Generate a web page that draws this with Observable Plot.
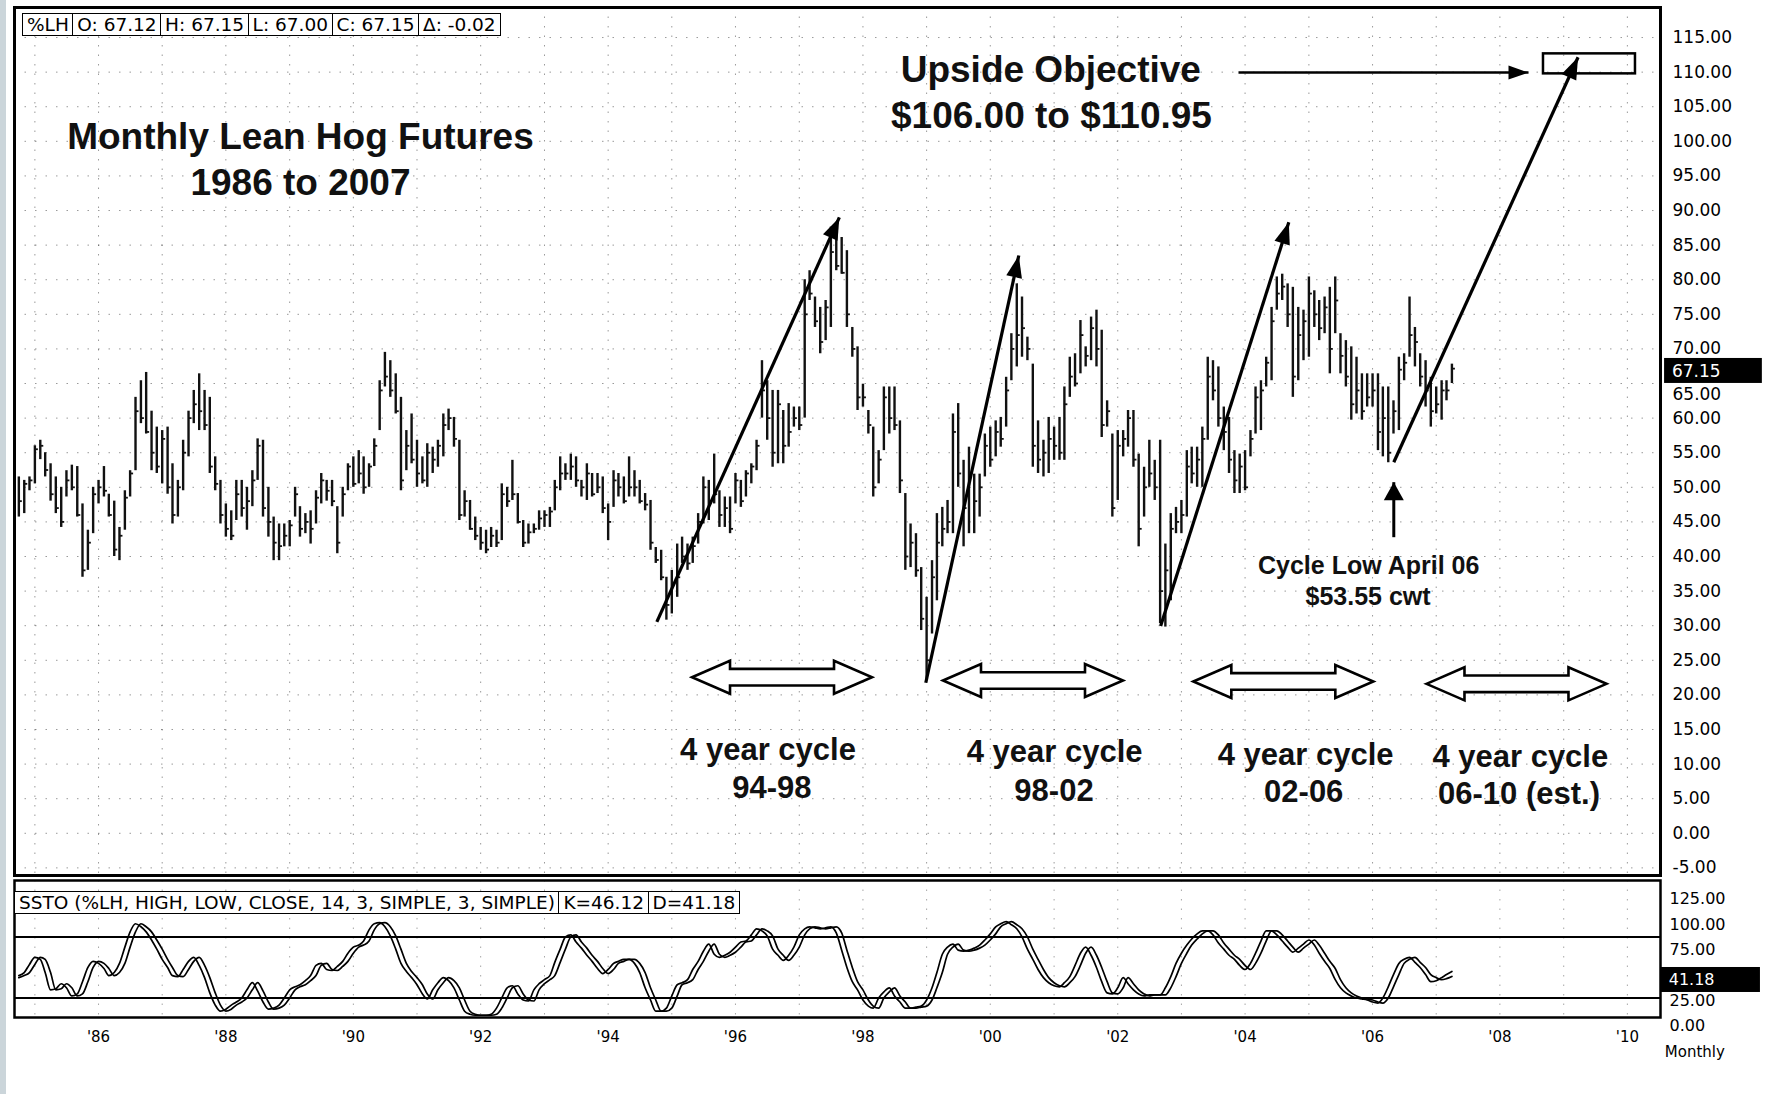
<!DOCTYPE html>
<html><head><meta charset="utf-8">
<script src="https://cdn.jsdelivr.net/npm/d3@7"></script>
<script src="https://cdn.jsdelivr.net/npm/@observablehq/plot@0.6"></script>
<style>
html,body{margin:0;padding:0;background:#fff;}
#chart{position:relative;width:1765px;height:1094px;background:#fff;overflow:hidden;}
#chart svg{position:absolute;left:0;}
.strip{position:absolute;left:0;top:0;width:6px;height:1094px;background:#cbd5da;}
.hdr{position:absolute;display:flex;font-family:"DejaVu Sans",sans-serif;font-size:18.5px;line-height:21px;color:#000;z-index:2;}
.hdr span{border:1.5px solid #000;padding:0 4px;margin-right:-1.5px;background:#fff;white-space:pre;}
</style></head><body><div id="chart"><div class="strip"></div></div>
<script>
// ---------- DATA (monthly bars, first bar = Oct 1984) ----------
const firstYear = 1984, firstMonth = 9;
const high = [51.5,51,51.5,56,56.8,55,53.4,51.5,50,52.4,
53.2,53,47.6,43.8,50,51,53,49,48,44.2,
49.5,52.4,63,65.4,66.6,61,58.7,58.2,58.7,53.4,
51,56.8,61,64,66.4,64,63,54.4,51,47.6,
46.6,51,51,50,52.4,57,56.8,50,45.7,44.7,
44.7,45.2,50,47.2,46.2,46.6,49.5,52,51,51,
47.2,50,53.4,54.4,55.3,54.4,53.4,57,65.4,69.5,
68.3,66.4,63,58.2,60.6,56.8,54.4,56.3,55.8,56.8,
60.6,61.3,60.1,56.8,49.5,48.1,45.7,44.2,43.8,44.2,
43.8,50.5,50,53.9,49.1,45.2,44.7,44.7,46.6,46.6,
47.1,51,54.4,53.4,54.8,54.4,51,53.4,52,52,
51.5,47.6,52.4,52,51.5,54.4,52.4,51,49.1,48.1,
41.3,40.9,37,38,41.8,42.8,41.8,42.8,46.2,51.5,
51,54.8,49.5,48.6,48.6,52,51,52.4,53.4,56.8,
68.3,65.4,64,64,61.1,62.1,61.6,61.6,80,81.3,
77.5,76,77,87.6,87,86.1,84.2,73.1,70.3,64.9,
61.1,58.7,55.3,64.5,64.5,64.5,59.6,49.1,44.7,43.3,
38.4,34.1,39.4,46.2,47.1,48.1,60.6,62.1,53.9,55.8,
51.9,51.9,57.7,58.7,59.6,60.1,65.9,72.2,79.4,77.5,
71.7,67.8,59.6,56.8,60.1,58.7,60.1,64.5,68.8,69.3,
74.1,70.3,74.6,75.6,72.7,62.5,57.7,58.2,58.2,61.1,
61.1,54.8,52.9,56.8,53.9,56.8,41.8,46.2,47.1,48.1,
55.3,55.8,55.8,58.7,68.8,68.3,67.4,61.6,60.1,55.3,
54.8,55.3,58.2,64.5,65.4,68.8,76,80.4,80.8,79.4,
78.9,76,75.6,80.4,78.4,77,77.5,78.9,80.4,72.2,
71.2,70.3,68.8,66.4,66.4,66.4,66.4,64.5,64.5,62.5,
68.8,69.3,77.5,73.1,69.3,68.3,65.9,64.5,65.4,65.4,
67.8];
const low = [45.7,46.2,49.5,50.5,54,51.5,48,46.2,44.2,48.6,
49.5,45.7,37,38,43.3,47.6,48.6,45.7,40,39.4,
43.8,48.6,52.4,59.2,57.7,52.4,52,50.5,49,44.7,
45.7,49.5,54.4,59.2,58.2,58.2,52,49.5,44.7,42.8,
42.3,45.2,45.7,43.8,47.2,51,45.7,42.8,39.4,39.4,
41.4,41.4,45.7,42.8,43.3,41.8,44.7,47.6,48,47.2,
40.4,45.7,49.5,50,50.5,49,50,53,58.2,64.5,
63,60.6,49.5,52.4,53.4,50,50.5,50,52,52.9,
54.4,58.2,55.8,45.2,45.7,43.8,42.3,40.9,40.4,41.3,
41.3,42.3,47.1,48.1,44.7,41.3,41.8,43.3,43.8,44.2,
44.2,46.6,49.5,51,51,50,48.6,48.1,48.6,49.1,
46.2,42.3,47.1,48.6,47.6,48.6,48.6,47.6,46.6,40.9,
39,36.5,30.8,31.7,34.1,39,38,39,41.8,44.7,
45.2,47.6,44.2,44.2,43.3,47.6,47.1,48.6,50.5,52.4,
60,56.8,52.9,53.4,53.4,55.8,58.7,58.2,60,77,
73.1,69.3,71.2,73.1,81.3,80.8,73.1,68.8,61.1,61.6,
57.7,48.6,50.5,55.3,57.7,58.2,49.1,38,38.4,37,
29.3,22.1,28.8,33.6,41.4,43.3,43.3,50,41.4,43.3,
43.3,45.7,51.5,52.9,54.4,55.8,58.7,65.4,67.4,68.8,
68.3,52.9,52,51.5,52,53.9,53.9,53.9,63,64.5,
66.4,67.4,68.3,67.4,57.2,58.7,45.7,48.1,54.4,55.8,
52.9,41.4,45.7,50,48.1,30.3,29.8,33.6,43.3,43.3,
45.7,50.5,50,50,56.8,62.5,58.7,55.3,52,49.1,
49.1,49.5,54.4,57.7,58.2,64.5,65.4,75.6,77,73.1,
63,65.4,68.3,68.8,73.1,71.2,72.2,66.4,72.2,66.4,
64.5,59.7,60.6,59.7,61.6,61.6,55.3,54.4,53.55,57.7,
58.2,65.4,68.8,67.4,64.5,61.6,58.7,60.6,59.7,62.5,
65];
const close = [48,50.5,51,55.5,56,52.5,49,47,45,51,
50,46,38,42,49,50,49.5,46,41,43,
48.5,52,61,60,58,55,53,57,50,46,
50,55,60,62,61,59,53,50.5,46,44,
43,49,47,48,51,56,47,45,42,41.5,
43,44.5,49,44,45,44,48.5,51,49.5,48,
42,49,53,50.5,52,50,53,56,64,66,
64,61,51,56,54,52,51,55,54,56,
59,60,57,46,48,44,43,42,41,43,
42,49,48,49,45,42,43.5,44,45.5,46,
46.5,50,52,52,53,51,50,52,49,50,
47,45,51,50,48,50,50,48,47.5,42,
39.5,37,33,36,37,40,39,41.5,45,50,
48,49,46,47,44,51,48,52,53,56,
64,60,55,62,56,58,60,59,75,78,
74,71,76,84,82,81,75,70,63,63,
59,50,54,63,60,59,51,40,42,38,
31,25,37,42,44,45,58,52,47,52,
48,50,56,54,58,57,64,70,72,73,
70,56,54,55,57,56,55,62,66,65,
72,69,73,70,59,61,47,56,57,60,
54,44,50,52,50,35,38,44,45,46,
53,52,54,57,66,64,60,58,54,51,
53,50,57,63,64,68,74,78,79,75,
66,72,74,78,75,73,76,70,77,69,
66,62,64,61,63,64,58,60,55,61,
67,68,72,71,66,64,61,62,64,64,
67.15];
// Slow stochastic %K and %D (one value per monthly bar)
const stochK = [42,45,53,60,58,45,28,29,34,30,
22,24,36,50,56,54,49,42,45,54,
70,85,93,90,85,77,68,58,50,42,
41,48,56,60,52,40,25,13,7,9,
13,16,20,28,35,27,16,9,10,13,
20,28,31,33,37,42,52,54,48,47,
51,56,64,70,72,76,87,93,94,90,
81,68,54,46,40,33,24,19,28,35,
40,37,30,18,7,4,3,3,3,4,
10,20,30,32,24,18,17,28,34,38,
42,55,68,80,82,75,69,62,56,49,
44,48,54,56,58,58,54,45,30,18,
7,7,10,22,33,35,38,48,56,66,
73,63,60,62,65,70,75,76,82,88,
86,81,68,62,57,62,70,82,88,90,
89,88,89,90,84,67,50,36,28,18,
12,10,20,26,30,22,16,10,10,11,
12,18,30,45,63,70,73,67,66,67,
69,72,77,83,90,93,95,92,88,80,
68,58,48,40,35,32,31,35,41,52,
64,70,62,50,36,25,24,30,40,34,
28,24,22,23,23,23,30,41,54,64,
72,78,83,86,86,82,74,68,62,58,
52,48,54,64,76,86,86,82,76,70,
65,69,73,77,72,64,56,49,38,30,
25,22,20,19,18,16,15,20,31,43,
54,58,60,55,50,43,36,37,40,43,
46.12];
const stochD = [40,42,45,53,60,58,45,28,29,34,
30,22,24,36,50,56,54,49,42,45,
54,70,85,93,90,85,77,68,58,50,
42,41,48,56,60,52,40,25,13,7,
9,13,16,20,28,35,27,16,9,10,
13,20,28,31,33,37,42,52,54,48,
47,51,56,64,70,72,76,87,93,94,
90,81,68,54,46,40,33,24,19,28,
35,40,37,30,18,7,4,3,3,3,
4,10,20,30,32,24,18,17,28,34,
38,42,55,68,80,82,75,69,62,56,
49,44,48,54,56,58,58,54,45,30,
18,7,7,10,22,33,35,38,48,56,
66,73,63,60,62,65,70,75,76,82,
88,86,81,68,62,57,62,70,82,88,
90,89,88,89,90,84,67,50,36,28,
18,12,10,20,26,30,22,16,10,10,
11,12,18,30,45,63,70,73,67,66,
67,69,72,77,83,90,93,95,92,88,
80,68,58,48,40,35,32,31,35,41,
52,64,70,62,50,36,25,24,30,40,
34,28,24,22,23,23,23,30,41,54,
64,72,78,83,86,86,82,74,68,62,
58,52,48,54,64,76,86,86,82,76,
70,65,69,73,77,72,64,56,49,38,
30,25,22,20,19,18,16,15,20,31,
43,54,58,60,55,50,43,40,38,39,
41.18];
const priceTicks = [-5,0,5,10,15,20,25,30,35,40,45,50,55,60,70,75,80,85,90,95,100,105,110,115];
const coveredPriceTick = [65];
const priceGrid = [-5,0,5,10,15,20,25,30,35,40,45,50,55,60,65,70,75,80,85,90,95,100,105,110,115];
const stochTicks = [0,25,75,100,125];
const stochLevels = [20,80];
const yearLabels = [1986,1988,1990,1992,1994,1996,1998,2000,2002,2004,2006,2008,2010];
const gridYears = [1985,1986,1987,1988,1989,1990,1991,1992,1993,1994,1995,1996,1997,1998,1999,2000,2001,2002,2003,2004,2005,2006,2007,2008,2009,2010];
const quoteFields = ["%LH","O: 67.12","H: 67.15","L: 67.00","C: 67.15","\u0394: -0.02"];
const stochFields = ["SSTO (%LH, HIGH, LOW, CLOSE, 14, 3, SIMPLE, 3, SIMPLE)","K=46.12","D=41.18"];
const lastPrice = "67.15", lastD = "41.18";

// ---------- helpers ----------
const yr = v => new Date(Date.UTC(1970,0,1) + (v - 1970) * 365.2425 * 864e5);
const bars = high.map((h, i) => {
  const date = new Date(Date.UTC(firstYear, firstMonth + i, 1));
  return {date, high: h, low: low[i], close: close[i], tickEnd: d3.utcDay.offset(date, 20)};
});
const stoch = stochK.map((k, i) => ({date: bars[i].date, k, d: stochD[i]}));
const yearDates = yearLabels.map(y => new Date(Date.UTC(y,0,1)));
const gridDates = gridYears.map(y => new Date(Date.UTC(y,0,1)));

const xDomain = [yr(1984.681), yr(2010.521)];
const W = 1765, mL = 14, mR = 105;
const yDomain = [-6.10, 119.34];
const upTop = 7, upBottom = 875, upH = 880;

// annotations (positions, in data space)
const titleLines = [
  {x: yr(1989.17), y: 100.55, text: "Monthly Lean Hog Futures"},
  {x: yr(1989.17), y: 93.9, text: "1986 to 2007"}
];
const objectiveLines = [
  {x: yr(2000.95), y: 110.23, text: "Upside Objective"},
  {x: yr(2000.96), y: 103.58, text: "$106.00 to $110.95"}
];
const lowLines = [
  {x: yr(2005.94), y: 38.68, text: "Cycle Low April 06"},
  {x: yr(2005.93), y: 34.12, text: "$53.55 cwt"}
];
const cycleLabels = [
  {x: yr(1996.51), y: 11.96, text: "4 year cycle"}, {x: yr(1996.57), y: 6.47, text: "94-98"},
  {x: yr(2001.01), y: 11.72, text: "4 year cycle"}, {x: yr(2001.0), y: 6.17, text: "98-02"},
  {x: yr(2004.95), y: 11.35, text: "4 year cycle"}, {x: yr(2004.92), y: 5.91, text: "02-06"},
  {x: yr(2008.32), y: 11.02, text: "4 year cycle"}, {x: yr(2008.30), y: 5.6, text: "06-10 (est.)"}
];
const cycleArrows = [
  {x: yr(1996.73), y: 22.56}, {x: yr(2000.67), y: 22.08},
  {x: yr(2004.60), y: 21.94}, {x: yr(2008.26), y: 21.6}
];
const trendArrows = [
  {x1: yr(1994.765), y1: 30.55, x2: yr(1997.63), y2: 89.0},
  {x1: yr(1998.987), y1: 21.76, x2: yr(2000.447), y2: 83.5},
  {x1: yr(2002.674), y1: 29.96, x2: yr(2004.686), y2: 88.31},
  {x1: yr(2006.334), y1: 53.62, x2: yr(2009.227), y2: 112.15}
];
const objectiveArrow = [{x1: yr(2003.896), y1: 109.94, x2: yr(2008.449), y2: 109.94}];
const lowArrow = [{x1: yr(2006.334), y1: 42.79, x2: yr(2006.334), y2: 50.74}];
const objectiveBox = [{x1: yr(2008.684), x2: yr(2010.128), y1: 109.75, y2: 112.64}];
const priceBox = [{x1: yr(2010.585), x2: yr(2012.12), y1: 65.01, y2: 68.62, tx: yr(2010.70), ty: 66.8, text: lastPrice}];

// scales used only to orient the arrowheads
const xs = Plot.scale({x: {type: "utc", domain: xDomain, range: [mL, W - mR]}});
const ys = Plot.scale({y: {type: "linear", domain: yDomain, range: [upBottom, upTop]}});
function headSymbol(a, len, half) {
  const dx = xs.apply(a.x2) - xs.apply(a.x1), dy = ys.apply(a.y2) - ys.apply(a.y1);
  const n = Math.hypot(dx, dy), ux = dx / n, uy = dy / n;
  return {draw(ctx) {
    ctx.moveTo(0, 0);
    ctx.lineTo(-len * ux - half * uy, -len * uy + half * ux);
    ctx.lineTo(-len * ux + half * uy, -len * uy - half * ux);
    ctx.closePath();
  }};
}
const doubleArrow = {draw(ctx) {
  const L = 90, hl = 38, hh = 16.5, sh = 8.3;
  ctx.moveTo(-L, 0); ctx.lineTo(-L + hl, -hh); ctx.lineTo(-L + hl, -sh);
  ctx.lineTo(L - hl, -sh); ctx.lineTo(L - hl, -hh); ctx.lineTo(L, 0);
  ctx.lineTo(L - hl, hh); ctx.lineTo(L - hl, sh); ctx.lineTo(-L + hl, sh);
  ctx.lineTo(-L + hl, hh); ctx.closePath();
}};
const heads = (arr, len, half) => arr.map(a =>
  Plot.dot([a], {x: "x2", y: "y2", symbol: headSymbol(a, len, half), r: 10, fill: "#000", stroke: "none"}));

const boldFont = "Liberation Sans, Arial, sans-serif";
const upper = Plot.plot({
  width: W, height: upH,
  marginLeft: mL, marginRight: mR, marginTop: upTop, marginBottom: upH - upBottom,
  x: {type: "utc", domain: xDomain, axis: null},
  y: {domain: yDomain, axis: null},
  style: {fontFamily: "DejaVu Sans, sans-serif", fontSize: "17px", background: "transparent", color: "#000"},
  marks: [
    Plot.gridY(priceGrid, {stroke: "#000", strokeOpacity: 0.4, strokeDasharray: "1.5,9"}),
    Plot.gridX(gridDates, {stroke: "#000", strokeOpacity: 0.4, strokeDasharray: "1.5,8"}),
    Plot.ruleX(bars, {x: "date", y1: "low", y2: "high", stroke: "#111", strokeWidth: 2.4}),
    Plot.ruleY(bars, {y: "close", x1: "date", x2: "tickEnd", stroke: "#111", strokeWidth: 1.8}),
    Plot.axisY(priceTicks, {anchor: "right", tickSize: 0, tickPadding: 12, tickFormat: d => d.toFixed(2)}),
    Plot.axisY(coveredPriceTick, {anchor: "right", tickSize: 0, tickPadding: 12, dy: 11, tickFormat: d => d.toFixed(2)}),
    Plot.rect(priceBox, {x1: "x1", x2: "x2", y1: "y1", y2: "y2", fill: "#000"}),
    Plot.text(priceBox, {x: "tx", y: "ty", text: "text", fill: "#fff", textAnchor: "start", fontSize: 17}),
    Plot.text(titleLines, {x: "x", y: "y", text: "text", fontSize: 37, fontWeight: "bold", fontFamily: boldFont, fill: "#111"}),
    Plot.text(objectiveLines, {x: "x", y: "y", text: "text", fontSize: 37, fontWeight: "bold", fontFamily: boldFont, fill: "#111"}),
    Plot.text(lowLines, {x: "x", y: "y", text: "text", fontSize: 25, fontWeight: "bold", fontFamily: boldFont, fill: "#111"}),
    Plot.text(cycleLabels, {x: "x", y: "y", text: "text", fontSize: 31, fontWeight: "bold", fontFamily: boldFont, fill: "#111"}),
    Plot.dot(cycleArrows, {x: "x", y: "y", symbol: doubleArrow, r: 10, fill: "#fff", stroke: "#000", strokeWidth: 2.6}),
    Plot.rect(objectiveBox, {x1: "x1", x2: "x2", y1: "y1", y2: "y2", fill: "none", stroke: "#000", strokeWidth: 2.5}),
    Plot.link(trendArrows, {x1: "x1", y1: "y1", x2: "x2", y2: "y2", stroke: "#000", strokeWidth: 3.2}),
    ...heads(trendArrows, 22, 8),
    Plot.link(objectiveArrow, {x1: "x1", y1: "y1", x2: "x2", y2: "y2", stroke: "#000", strokeWidth: 2.6}),
    ...heads(objectiveArrow, 20, 7),
    Plot.link(lowArrow, {x1: "x1", y1: "y1", x2: "x2", y2: "y2", stroke: "#000", strokeWidth: 3}),
    ...heads(lowArrow, 18, 10),
    Plot.frame({stroke: "#000", strokeWidth: 3})
  ]
});
upper.style.top = "0px";

const loTop = 878, loH = 216, loFrameTop = 2, loFrameBottom = 139;
const dBox = [{x1: yr(2010.521), x2: yr(2012.09), y1: 25.4, y2: 49.97, tx: yr(2010.65), ty: 38.2, text: lastD}];
const monthlyLabel = [{x: yr(2011.06), y: -33.6, text: "Monthly"}];
const lower = Plot.plot({
  width: W, height: loH,
  marginLeft: mL, marginRight: mR, marginTop: loFrameTop, marginBottom: loH - loFrameBottom,
  x: {type: "utc", domain: xDomain, axis: null},
  y: {domain: [0.8, 135.5], axis: null},
  style: {fontFamily: "DejaVu Sans, sans-serif", fontSize: "16px", background: "transparent", color: "#000"},
  marks: [
    Plot.gridX(gridDates, {stroke: "#000", strokeOpacity: 0.35, strokeDasharray: "1.5,8"}),
    Plot.ruleY(stochLevels, {stroke: "#000", strokeWidth: 2}),
    Plot.line(stoch, {x: "date", y: "d", stroke: "#000", strokeWidth: 1.7, curve: "monotone-x"}),
    Plot.line(stoch, {x: "date", y: "k", stroke: "#000", strokeWidth: 1.7, curve: "monotone-x"}),
    Plot.axisY(stochTicks, {anchor: "right", tickSize: 0, tickPadding: 9, dy: 8, tickFormat: d => d.toFixed(2)}),
    Plot.axisX(yearDates, {anchor: "bottom", tickSize: 0, tickPadding: 14, fontSize: 15,
      tickFormat: d => "'" + String(d.getUTCFullYear()).slice(2)}),
    Plot.rect(dBox, {x1: "x1", x2: "x2", y1: "y1", y2: "y2", fill: "#000"}),
    Plot.text(dBox, {x: "tx", y: "ty", text: "text", fill: "#fff", textAnchor: "start", fontSize: 16}),
    Plot.text(monthlyLabel, {x: "x", y: "y", text: "text", fontSize: 15}),
    Plot.frame({stroke: "#000", strokeWidth: 2.5})
  ]
});
lower.style.top = loTop + "px";

const chart = document.getElementById("chart");
chart.appendChild(upper);
chart.appendChild(lower);

function header(fields, left, top) {
  const div = document.createElement("div");
  div.className = "hdr";
  div.style.left = left + "px"; div.style.top = top + "px";
  fields.forEach(f => { const s = document.createElement("span"); s.textContent = f; div.appendChild(s); });
  chart.appendChild(div);
}
header(quoteFields, 22, 13);
header(stochFields, 14, 891);
</script></body></html>
